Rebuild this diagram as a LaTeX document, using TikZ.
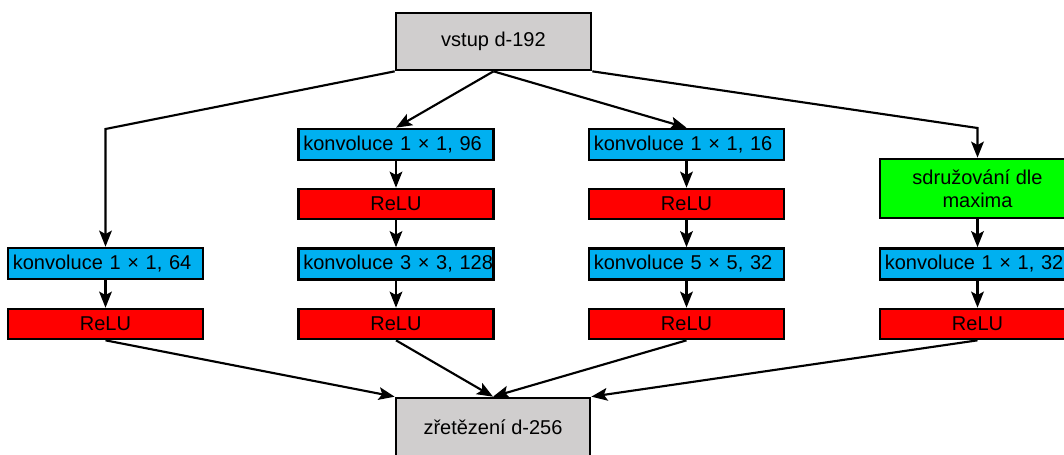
\documentclass[tikz,border=0pt]{standalone}
\usepackage{fontspec}
\setmainfont{Liberation Sans}
\usetikzlibrary{arrows.meta}

\definecolor{konvblue}{RGB}{0,176,240}
\definecolor{datagray}{RGB}{208,206,206}

\tikzset{
  blok/.style={draw=black, line width=2pt, inner sep=0pt, minimum width=146.25pt, font=\fontsize{15pt}{17.5pt}\selectfont},
  datablok/.style={blok, fill=datagray, minimum height=42.75pt},
  konvblok/.style={blok, fill=konvblue, minimum height=23.25pt, text width=139pt, align=left, inner xsep=3.6pt},
  relublok/.style={blok, fill=red, minimum height=22.5pt},
  poolblok/.style={blok, fill=green, minimum height=44.25pt, align=center},
  sipka/.style={line width=1.6pt, -{Stealth[length=12pt, width=9.5pt, inset=2.5pt]}}
}

\begin{document}
\begin{tikzpicture}[x=0.75pt, y=-0.75pt]
        \useasboundingbox (0,0) rectangle (1064,454);

        % Vstup a vystup
        \node[datablok] (vstup) at (493.5, 41.5) {vstup d-192};
        \node[datablok, minimum width=145.5pt, minimum height=43.5pt] (spojeni) at (493, 427) {zřetězení d-256};

        % Vetev 1
        \node[konvblok] (k64) at (105.5, 263.5) {konvoluce 1 × 1, 64};
        \node[relublok] (relu64) at (105.5, 324) {ReLU};

        % Vetev 2
        \node[konvblok] (k96) at (396, 144.5) {konvoluce 1 × 1, 96};
        \node[relublok] (relu96) at (396, 204) {ReLU};
        \node[konvblok] (k128) at (396, 264) {\mbox{konvoluce 3 × 3, 128}};
        \node[relublok] (relu128) at (396, 324) {ReLU};

        % Vetev 3
        \node[konvblok] (k16) at (686.5, 144.5) {konvoluce 1 × 1, 16};
        \node[relublok] (relu16) at (686.5, 204) {ReLU};
        \node[konvblok] (k32a) at (686.5, 264) {konvoluce 5 × 5, 32};
        \node[relublok] (relu32a) at (686.5, 324) {ReLU};

        % Vetev 4
        \node[poolblok] (pool) at (977.5, 188.5) {sdružování dle\\maxima};
        \node[konvblok] (k32b) at (977.5, 264) {konvoluce 1 × 1, 32};
        \node[relublok] (relu32b) at (977.5, 324) {ReLU};

        % Zlomy car
        \coordinate (zlom1) at (105.5, 129);
        \coordinate (zlom4) at (977.5, 128);

        % Sipky ze vstupu
        \draw[sipka] (vstup.south west) -- (zlom1) -- (k64.north);
        \draw[sipka] (vstup.south) -- (k96.north);
        \draw[sipka] (vstup.south) -- (k16.north);
        \draw[sipka] (vstup.south east) -- (zlom4) -- (pool.north);

        % Sipky ve vetvich
        \draw[sipka] (k64) -- (relu64);
        \draw[sipka] (k96) -- (relu96);
        \draw[sipka] (relu96) -- (k128);
        \draw[sipka] (k128) -- (relu128);
        \draw[sipka] (k16) -- (relu16);
        \draw[sipka] (relu16) -- (k32a);
        \draw[sipka] (k32a) -- (relu32a);
        \draw[sipka] (pool) -- (k32b);
        \draw[sipka] (k32b) -- (relu32b);

        % Sipky do zretezeni
        \draw[sipka] (relu64.south) -- (spojeni.north west);
        \draw[sipka] (relu128.south) -- (spojeni.north);
        \draw[sipka] (relu32a.south) -- (spojeni.north);
        \draw[sipka] (relu32b.south) -- (spojeni.north east);
\end{tikzpicture}
\end{document}
